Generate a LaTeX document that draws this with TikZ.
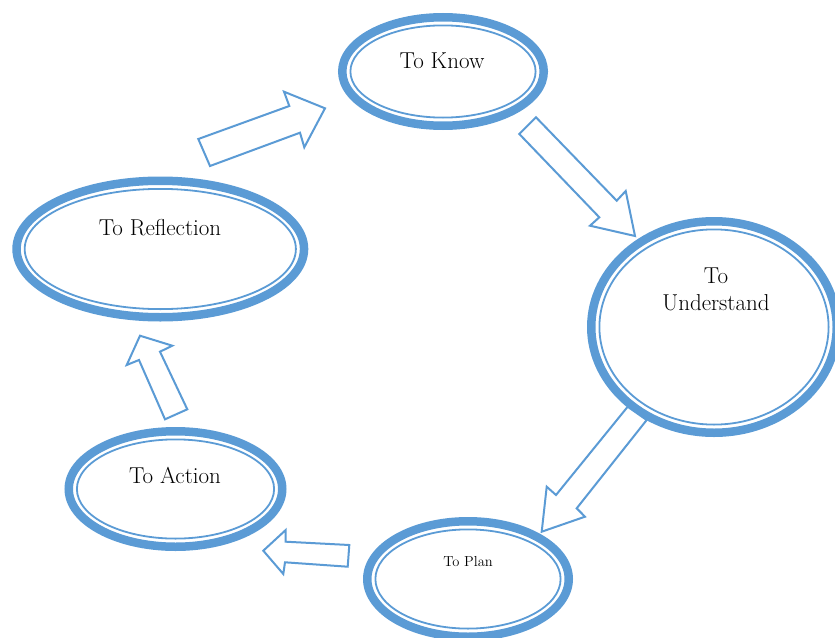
\documentclass[tikz,border=0pt]{standalone}
\usetikzlibrary{shapes.geometric}
\definecolor{cblue}{HTML}{5B9BD5}
\begin{document}
\begin{tikzpicture}[x=1pt,y=-1pt,
  outer/.style={ellipse,draw=cblue,line width=8.5pt,inner sep=0pt},
  innerring/.style={draw=cblue,line width=1.8pt},
  lbl/.style={font=\fontsize{23}{27}\selectfont,text=black,align=center},
  blockarrow/.style={draw=cblue,line width=2pt,line join=miter,fill=white}]
\useasboundingbox (0,0) rectangle (835,637);
% ellipses
\node[outer,minimum width=201.5pt,minimum height=108.5pt] (know) at (443,71.5) {};
\draw[innerring] (know.center) ellipse [x radius=92.6pt, y radius=46.1pt];
\node[lbl] (knowt) at (442,61) {To Know};

\node[outer,minimum width=245.5pt,minimum height=211.5pt] (und) at (714,327) {};
\draw[innerring] (und.center) ellipse [x radius=114.6pt, y radius=97.6pt];
\node[lbl] (undt) at (716,289) {To\\Understand};

\node[outer,minimum width=201.5pt,minimum height=115.5pt] (plan) at (468,579) {};
\draw[innerring] (plan.center) ellipse [x radius=92.6pt, y radius=49.6pt];
\node[lbl,font=\fontsize{14.5}{17}\selectfont] (plant) at (468,562) {To Plan};

\node[outer,minimum width=213.5pt,minimum height=115.5pt] (act) at (175.5,489) {};
\draw[innerring] (act.center) ellipse [x radius=98.6pt, y radius=49.6pt];
\node[lbl] (actt) at (175,475) {To Action};

\node[outer,minimum width=287.5pt,minimum height=136.5pt] (refl) at (160.3,249) {};
\draw[innerring] (refl.center) ellipse [x radius=135.6pt, y radius=60.1pt];
\node[lbl] (reflt) at (160,228) {To Reflection};

% block arrows
\draw[blockarrow] (198.3,139) -- (210,166) -- (300,132.7) -- (304.3,147.3) -- (325,108.3) -- (284,91.7) -- (289.3,106) -- cycle;
\draw[blockarrow] (519.3,134) -- (536,117.3) -- (616.7,200.7) -- (625.7,191) -- (635,236) -- (590,225.7) -- (599.3,217.3) -- cycle;
\draw[blockarrow] (627.7,406.7) -- (646.7,420) -- (576.7,508.3) -- (585,516.7) -- (541.7,531.7) -- (546.7,486.7) -- (556,495) -- cycle;
\draw[blockarrow] (349.3,545) -- (347.7,566.7) -- (285,562.3) -- (283.3,574) -- (263.3,550.7) -- (285.7,530) -- (285.7,541.7) -- cycle;
\draw[blockarrow] (165,419.3) -- (187.3,409.3) -- (160,351.7) -- (172.3,345.7) -- (140,335.7) -- (126.7,365) -- (139,360) -- cycle;
\end{tikzpicture}
\end{document}
